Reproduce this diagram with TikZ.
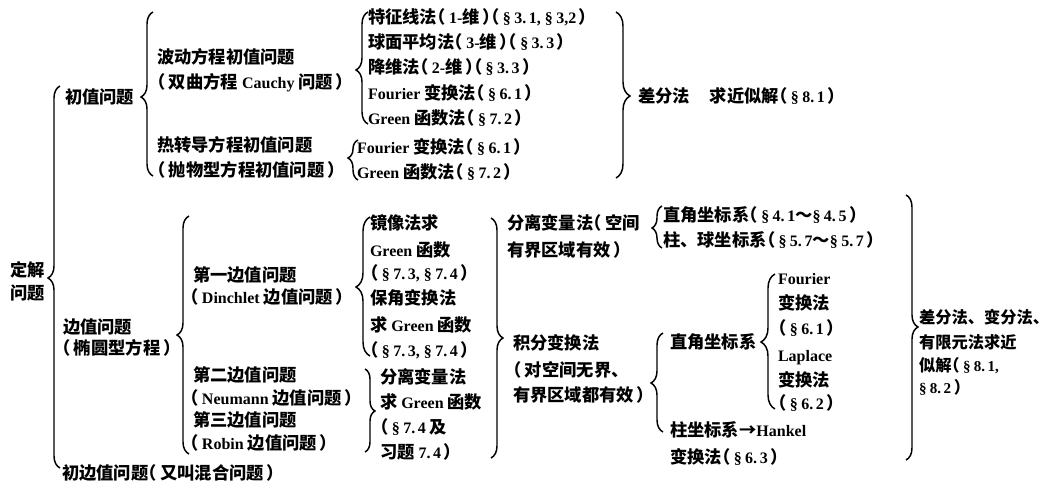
\documentclass[tikz,border=0pt]{standalone}
\usepackage{fontspec}
\setmainfont{Liberation Serif}
\newfontfamily\zhfont{Noto Sans CJK SC}[Scale=1.08]
\newfontfamily\zhhalf{Noto Sans CJK SC}[Scale=1.08, RawFeature=+halt]
\newcommand\CN[1]{{\zhfont\bfseries #1}}
\newcommand\lp{{\zhhalf\bfseries （}\kern2.5pt}
\newcommand\rp{\kern2pt{\zhhalf\bfseries ）}}
\newcommand\secm{§\kern2.5pt}
\usetikzlibrary{decorations.pathreplacing}
\tikzset{
  t/.style={anchor=base west, inner sep=0pt, outer sep=0pt},
  tn/.style={t, font=\fontsize{11.3}{13}\selectfont\bfseries},
  br/.style={decorate, line width=1.1pt, black}
}
% left brace: x, ytop, ybot, ytip, amplitude
\newcommand\LBr[5]{%
  \pgfmathsetmacro\brasp{(#3-#4)/(#3-#2)}%
  \draw[br, decoration={brace, amplitude=#5, aspect=\brasp}] (#1,#3) -- (#1,#2);}
% right brace
\newcommand\RBr[5]{%
  \pgfmathsetmacro\brasp{(#4-#2)/(#3-#2)}%
  \draw[br, decoration={brace, amplitude=#5, aspect=\brasp}] (#1,#2) -- (#1,#3);}
\begin{document}
\begin{tikzpicture}[x=0.75pt, y=-0.75pt, every node/.style={font=\fontsize{12}{14}\selectfont\bfseries}]
\useasboundingbox (0,0) rectangle (1053,490);
% ---------- root ----------
\node[t] (dj1) at (10,276) {\CN{定解}};
\node[t] (dj2) at (10,299) {\CN{问题}};
% ---------- initial value problems ----------
\node[t] (cz) at (65,103) {\CN{初值问题}};
\node[t] (bd1) at (157,63) {\CN{波动方程初值问题}};
\node[t] (bd2) at (157,88) {\lp\CN{双曲方程} Cauchy \CN{问题}\rp};
\node[t] (rd1) at (157,151) {\CN{热转导方程初值问题}};
\node[t] (rd2) at (157,176) {\lp\CN{抛物型方程初值问题}\rp};
\node[t] (m1) at (368,23) {\CN{特征线法}\lp 1-\CN{维}\rp\lp\secm 3.\,1,\ \secm 3,2\rp};
\node[t] (m2) at (368,48) {\CN{球面平均法}\lp 3-\CN{维}\rp\lp\secm 3.\,3\rp};
\node[t] (m3) at (368,73) {\CN{降维法}\lp 2-\CN{维}\rp\lp\secm 3.\,3\rp};
\node[t] (m4) at (368,99) {Fourier \CN{变换法}\lp\secm 6.\,1\rp};
\node[t] (m5) at (368,124) {Green \CN{函数法}\lp\secm 7.\,2\rp};
\node[t] (h1) at (357,153) {Fourier \CN{变换法}\lp\secm 6.\,1\rp};
\node[t] (h2) at (357,178) {Green \CN{函数法}\lp\secm 7.\,2\rp};
\node[t] (cf) at (638,102) {\CN{差分法}\hspace{15pt}\CN{求近似解}\lp\secm 8.\,1\rp};
% ---------- boundary value problems ----------
\node[t] (bz1) at (63,333) {\CN{边值问题}};
\node[t] (bz2) at (62,354) {\lp\CN{椭圆型方程}\rp};
\node[t] (d1a) at (193,281) {\CN{第一边值问题}};
\node[t] (d1b) at (190,303) {\lp Dinchlet \CN{边值问题}\rp};
\node[t] (d2a) at (193,381) {\CN{第二边值问题}};
\node[t] (d2b) at (190,404) {\lp Neumann \CN{边值问题}\rp};
\node[t] (d3a) at (193,426) {\CN{第三边值问题}};
\node[t] (d3b) at (190,449) {\lp Robin \CN{边值问题}\rp};
\node[t] (cbz) at (62,479) {\CN{初边值问题}\lp\CN{又叫混合问题}\rp};
\node[t] (g1) at (370,229) {\CN{镜像法求}};
\node[t] (g2) at (370,256) {Green \CN{函数}};
\node[t] (g3) at (370,279) {\lp\secm 7.\,3,\ \secm 7.\,4\rp};
\node[t] (g4) at (370,304) {\CN{保角变换法}};
\node[t] (g5) at (370,331) {\CN{求} Green \CN{函数}};
\node[t] (g6) at (370,356) {\lp\secm 7.\,3,\ \secm 7.\,4\rp};
\node[t] (s1) at (380,383) {\CN{分离变量法}};
\node[t] (s2) at (380,408) {\CN{求} Green \CN{函数}};
\node[t] (s3) at (380,433) {\lp\secm 7.\,4 \CN{及}};
\node[t] (s4) at (380,458) {\CN{习题} 7.\,4\rp};
\node[t] (fl1) at (507,229) {\CN{分离变量法}\lp\CN{空间}};
\node[t] (fl2) at (507,256) {\CN{有界区域有效}\rp};
\node[t] (jf1) at (513,349) {\CN{积分变换法}};
\node[t] (jf2) at (513,376) {\lp\CN{对空间无界、}};
\node[t] (jf3) at (513,401) {\CN{有界区域都有效}\rp};
\node[t] (zj1) at (663,221) {\CN{直角坐标系}\lp\secm 4.\,1\CN{～}\secm 4.\,5\rp};
\node[t] (zj2) at (663,246) {\CN{柱、球坐标系}\lp\secm 5.\,7\CN{～}\secm 5.\,7\rp};
\node[t] (zj3) at (670,348) {\CN{直角坐标系}};
\node[t] (fo1) at (778,284) {Fourier};
\node[t] (fo2) at (778,309) {\CN{变换法}};
\node[t] (fo3) at (778,334) {\lp\secm 6.\,1\rp};
\node[t] (la1) at (778,361) {Laplace};
\node[t] (la2) at (778,386) {\CN{变换法}};
\node[t] (la3) at (778,409) {\lp\secm 6.\,2\rp};
\node[t] (hk1) at (670,436) {\CN{柱坐标系→}Hankel};
\node[t] (hk2) at (670,463) {\CN{变换法}\lp\secm 6.\,3\rp};
\node[tn] (jl1) at (919,323) {\CN{差分法、变分法、}};
\node[tn] (jl2) at (919,348) {\CN{有限元法求近}};
\node[tn] (jl3) at (919,371) {\CN{似解}\lp\secm 8.\,1,};
\node[tn] (jl4) at (919,393) {\secm 8.\,2\rp};
% ---------- braces ----------
\LBr{60}{86}{468}{278}{9pt}
\LBr{153}{12}{176}{97}{9pt}
\LBr{368}{12}{124}{70}{9pt}
\LBr{358}{140}{180}{158}{7.5pt}
\RBr{616}{12}{178}{96}{10.5pt}
\LBr{189}{216}{454}{335}{9pt}
\LBr{370}{217}{356}{287}{10.5pt}
\RBr{365}{369}{452}{411}{7.5pt}
\RBr{491}{218}{458}{338}{9pt}
\LBr{662}{206}{248}{228}{7.5pt}
\LBr{663}{333}{432}{383}{9pt}
\LBr{775}{274}{409}{342}{10.5pt}
\RBr{906}{195}{460}{327}{9pt}
\end{tikzpicture}
\end{document}
